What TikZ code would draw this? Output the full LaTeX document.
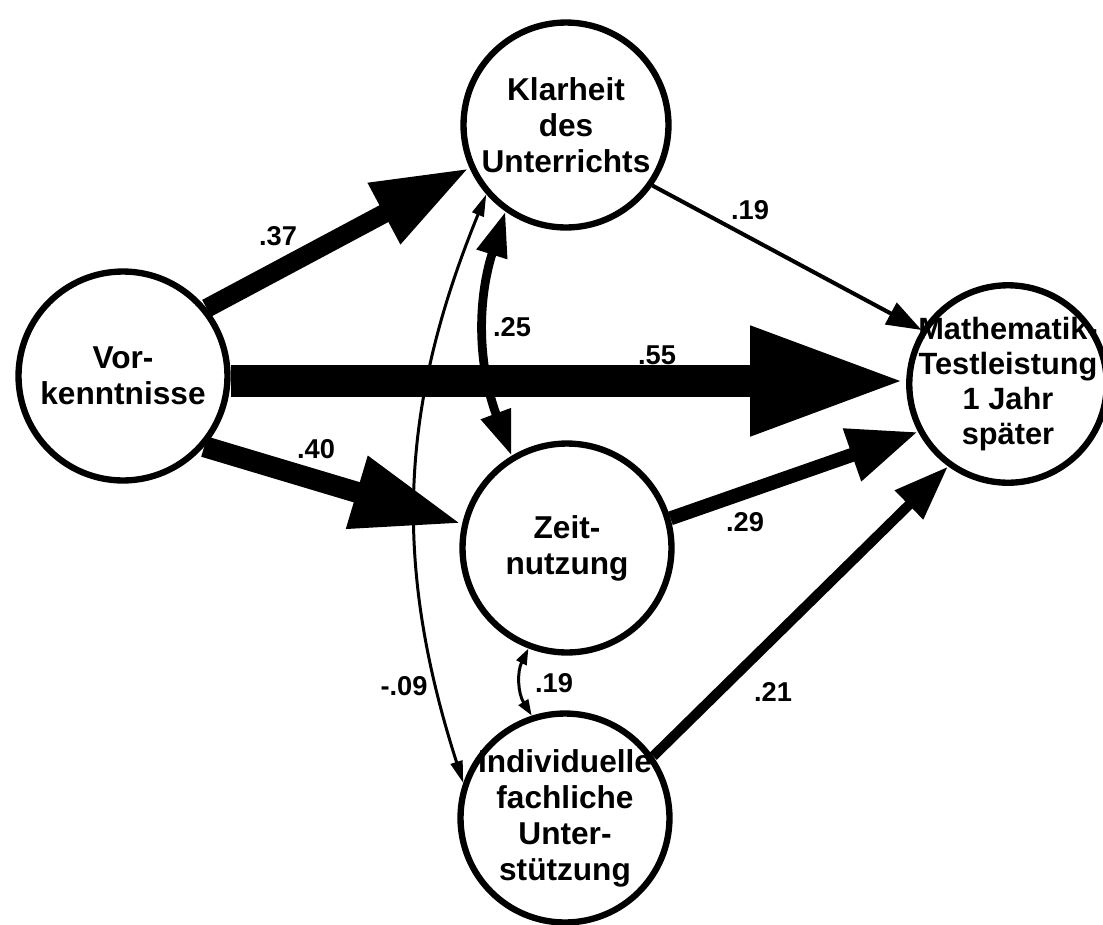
\documentclass[tikz,border=0pt]{standalone}
\usepackage{fontspec}
\setmainfont{Liberation Sans}
\usetikzlibrary{arrows.meta}

\begin{document}
\begin{tikzpicture}[x=0.02cm, y=-0.02cm,
      var/.style={draw, circle, line width=3.6pt, inner sep=-0.8cm, minimum size=4.18cm, align=center, font=\fontsize{18}{20.5}\selectfont\bfseries},
      arr/.style n args={3}{line width=#1, -{Triangle[length=#2, width=#3]}},
      corr/.style n args={3}{line width=#1, {Triangle[length=#2, width=#3]}-{Triangle[length=#2, width=#3]}},
      lbl/.style={font=\fontsize{15.5}{17}\selectfont\bfseries},
    ]
    \useasboundingbox (0,0) rectangle (1103,924);
    % Nodes
    \node[var] (vork) at (123,376) {Vor-\\kenntnisse};
    \node[var, minimum size=4.1cm] (klar) at (566,125) {Klarheit\\des\\Unterrichts};
    \node[var] (zeit) at (567,548) {Zeit-\\nutzung};
    \node[var] (indiv) at (565,818) {Individuelle\\fachliche\\Unter-\\stützung};
    \node[var, minimum size=3.95cm, font=\fontsize{17.5}{20}\selectfont\bfseries] (mathe) at (1008,384) {Mathematik-\\Testleistung\\1 Jahr\\später};

    % Paths
    \draw[arr={10.8pt}{1.94cm}{1.28cm}] (vork.39) -- (klar.204);
    \draw[arr={18.2pt}{3.12cm}{2.02cm}] (vork.east |- 0,381) -- (mathe.west |- 0,381);
    \draw[arr={12pt}{2.2cm}{1.4cm}] (vork.-41) -- (zeit.167);
    \draw[arr={2.3pt}{0.7cm}{0.48cm}] (klar.-35) -- (mathe.148);
    \draw[arr={8pt}{1.4cm}{1.04cm}] (zeit.16) -- (mathe.208);
    \draw[arr={5.7pt}{1.1cm}{0.76cm}] (indiv.35) -- (mathe.234);

    \draw[corr={5pt}{0.9cm}{0.6cm}] (klar.235) to[bend right=19] (zeit.121);
    \draw[corr={1.7pt}{0.44cm}{0.24cm}] (klar.221) to[bend right=20] (indiv.161);
    \draw[corr={1.7pt}{0.32cm}{0.22cm}] (zeit.249) to[bend right=29] (indiv.108);

    % Labels
    \node[lbl] (l37) at (278,236) {.37};
    \node[lbl] (l55) at (657,355) {.55};
    \node[lbl] (l40) at (316,449) {.40};
    \node[lbl] (l25) at (512,327) {.25};
    \node[lbl] (l19a) at (750,210) {.19};
    \node[lbl] (l29) at (745,522) {.29};
    \node[lbl] (l21) at (773,692) {.21};
    \node[lbl] (l19b) at (554,683) {.19};
    \node[lbl] (l09) at (404,686) {-.09};
  \end{tikzpicture}
\end{document}
